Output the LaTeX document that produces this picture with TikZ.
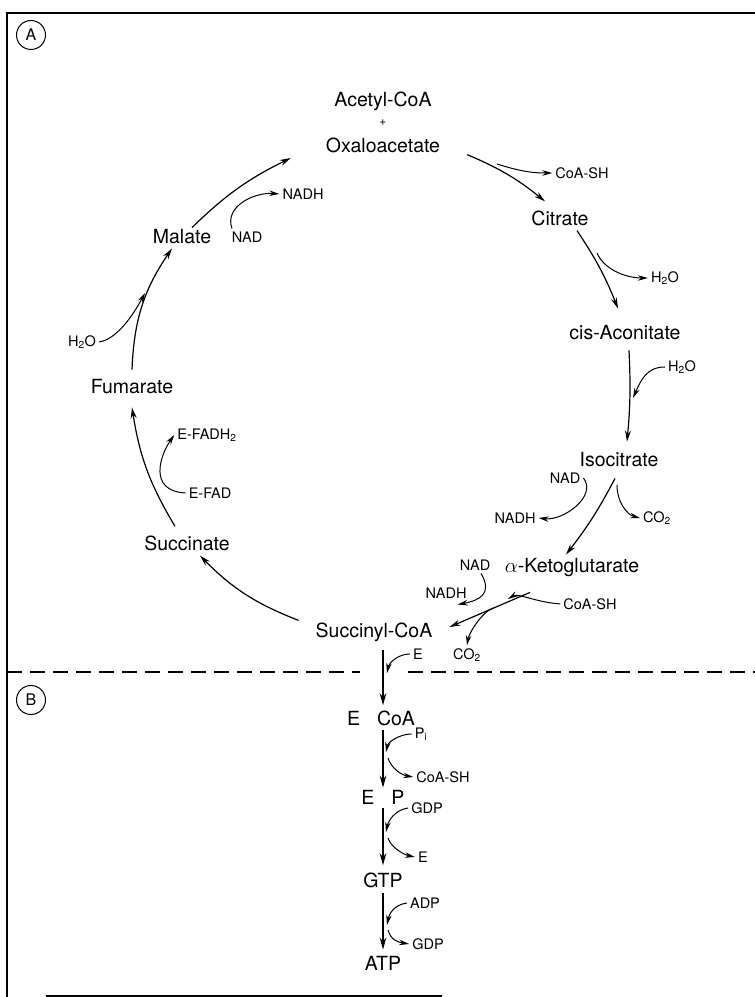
\documentclass[tikz,border=0pt]{standalone}
\usepackage{fontspec}
\setmainfont{TeX Gyre Heros}
\usetikzlibrary{arrows.meta}

\begin{document}
\begin{tikzpicture}[x=1pt,y=1pt,
  metab/.style={font=\fontsize{19.5}{22}\selectfont, inner sep=2pt},
  cofac/.style={font=\fontsize{14.5}{17}\selectfont, inner sep=3pt},
  panel/.style={draw, circle, line width=1pt, minimum size=29pt, inner sep=0pt, font=\fontsize{16}{18}\selectfont},
  cyc/.style={line width=1.2pt, -{Stealth[length=11pt,width=6pt]}},
  side/.style={line width=1pt, -{Stealth[length=10pt,width=5.5pt]}},
  stem/.style={line width=2pt, -{Stealth[length=12pt,width=6.5pt]}}]

  \useasboundingbox (0,0) rectangle (755,997);

  % frame and divider
  \draw[line width=1.5pt] (7,0) -- (7,984) -- (755,984);
  \draw[line width=1.2pt] (46,1) -- (442,1);
  \draw[line width=1.3pt, dash pattern=on 15pt off 8pt] (7,325) -- (360,325);
  \draw[line width=1.3pt, dash pattern=on 15pt off 8pt] (408,325) -- (755,325);

  % panel letters
  \node[panel] (pa) at (31,962) {A};
  \node[panel] (pb) at (31,297) {B};

  % cycle intermediates
  \node[metab] (acetyl) at (383,896) {Acetyl-CoA};
  \node[font=\fontsize{12}{14}\selectfont] (plus) at (383,874) {+};
  \node[metab] (oxalo) at (383,852) {Oxaloacetate};
  \node[metab] (citrate) at (560,779) {Citrate};
  \node[metab] (cisacon) at (625,664) {cis-Aconitate};
  \node[metab] (isocit) at (619,537) {Isocitrate};
  \node[metab] (aketo) at (572,429) {$\alpha$-Ketoglutarate};
  \node[metab] (succoa) at (374,365) {Succinyl-CoA};
  \node[metab] (succ) at (187,454) {Succinate};
  \node[metab] (fum) at (132,610) {Fumarate};
  \node[metab] (mal) at (182,760) {Malate};

  % cofactors around the cycle
  \node[cofac] (coash1) at (582,824) {CoA-SH};
  \node[cofac] (water1) at (665,719) {H\textsubscript{2}O};
  \node[cofac] (water2) at (682,630) {H\textsubscript{2}O};
  \node[cofac] (nad1) at (565,519) {NAD};
  \node[cofac] (nadh1) at (515,479) {NADH};
  \node[cofac] (co2a) at (657,479) {CO\textsubscript{2}};
  \node[cofac] (nad2) at (475,432) {NAD};
  \node[cofac] (nadh2) at (446,404) {NADH};
  \node[cofac] (coash2) at (590,393) {CoA-SH};
  \node[cofac] (co2b) at (467,342) {CO\textsubscript{2}};
  \node[cofac] (nad3) at (247,760) {NAD};
  \node[cofac] (nadh3) at (303,803) {NADH};
  \node[cofac] (water3) at (82,655) {H\textsubscript{2}O};
  \node[cofac] (efad) at (210,504) {E-FAD};
  \node[cofac] (efadh) at (207,562) {E-FADH\textsubscript{2}};

  % panel B
  \node[cofac] (enz1) at (418,343) {E};
  \node[metab] (ecoa) at (381,279) {E\hspace{17pt}CoA};
  \node[cofac] (pi) at (421,263) {P\textsubscript{i}};
  \node[cofac] (coash3) at (443,220) {CoA-SH};
  \node[metab] (ep) at (383,200) {E\hspace{17pt}P};
  \node[cofac] (gdp1) at (427,189) {GDP};
  \node[cofac] (enz2) at (423,140) {E};
  \node[metab] (gtp) at (383,117) {GTP};
  \node[cofac] (adp) at (425,94) {ADP};
  \node[cofac] (gdp2) at (428,53) {GDP};
  \node[metab] (atp) at (383,34) {ATP};

  % junctions of the side reactions
  \coordinate (j1) at (497,833);
  \coordinate (j2) at (597,744);
  \coordinate (j3) at (633,599);
  \coordinate (j4) at (617,512);
  \coordinate (j5) at (508,398);
  \coordinate (j6) at (493,389);
  \coordinate (j7) at (145,704);
  \coordinate (jb1) at (387,324);
  \coordinate (jb2) at (386,245);
  \coordinate (jb3) at (388,239);
  \coordinate (jb4) at (386,165);
  \coordinate (jb5) at (388,159);
  \coordinate (jb6) at (387,72);
  \coordinate (jb7) at (388,67);

  % the cycle
  \draw[cyc] ([xshift=10pt]mal.north) to[bend left=9] ([xshift=-33pt,yshift=-13pt]oxalo.west);
  \draw[cyc] ([xshift=25pt]oxalo.south east) to[bend left=8] ([xshift=-15pt,yshift=7pt]citrate.north);
  \draw[cyc] ([xshift=17pt,yshift=-3pt]citrate.south) to[bend left=6] ([xshift=-7pt,yshift=15pt]cisacon.north);
  \draw[cyc] ([xshift=4pt,yshift=-8pt]cisacon.south) to[bend left=4] ([xshift=8pt,yshift=9pt]isocit.north);
  \draw[cyc] ([xshift=-4pt,yshift=-9pt]isocit.south) to[bend left=5] ([xshift=-6pt,yshift=2pt]aketo.north);
  \draw[cyc] ([xshift=-42pt,yshift=-13pt]aketo.south) -- ([xshift=15pt,yshift=5pt]succoa.east);
  \draw[cyc] ([xshift=-15pt]succoa.north west) to[bend left=12] ([xshift=13pt,yshift=-3pt]succ.south);
  \draw[cyc] ([xshift=-12pt,yshift=7pt]succ.north) to[bend left=11] ([yshift=-11pt]fum.south);
  \draw[cyc] ([yshift=8pt]fum.north) to[bend left=16] ([xshift=-10pt,yshift=-2pt]mal.south);

  % side reactions
  \draw[side] (j1) .. controls +(25,-8) and +(-18,0) .. (coash1.west);
  \draw[side] (j2) .. controls +(8,-18) and +(-20,0) .. (water1.west);
  \draw[side] (water2.west) .. controls +(-18,0) and +(8,18) .. (j3);
  \draw[side] (nad1.east) .. controls +(14,-18) and +(25,-3) .. (nadh1.east);
  \draw[side] (j4) .. controls +(0,-18) and +(-12,3) .. (co2a.west);
  \draw[side] ([xshift=6pt]nad2.south) .. controls +(12,-20) and +(22,4) .. ([xshift=-12pt,yshift=-3pt]nadh2.south east);
  \draw[side] (coash2.west) .. controls +(-25,2) and +(10,6) .. (j5);
  \draw[side] (j6) .. controls +(-12,-5) and +(2,12) .. (co2b.north);
  \draw[side] ([xshift=-15pt]nad3.north) .. controls +(-8,22) and +(-25,2) .. (nadh3.west);
  \draw[side] (water3.east) .. controls +(20,3) and +(-8,-15) .. (j7);
  \draw[side] (efad.west) .. controls +(-38,2) and +(-14,-20) .. (efadh.west);

  % panel B stems
  \draw[stem] ([xshift=9pt,yshift=-6pt]succoa.south) -- ([xshift=2pt,yshift=3pt]ecoa.north);
  \draw[stem] ([xshift=2pt,yshift=-2pt]ecoa.south) -- (ep.north);
  \draw[stem] ([yshift=-2pt]ep.south) -- ([yshift=5pt]gtp.north);
  \draw[stem] ([yshift=-3pt]gtp.south) -- ([yshift=4pt]atp.north);

  \draw[side] (enz1.west) .. controls +(-12,0) and +(2,10) .. (jb1);
  \draw[side] (pi.west) .. controls +(-12,0) and +(2,10) .. (jb2);
  \draw[side] (jb3) .. controls +(3,-10) and +(-12,2) .. (coash3.west);
  \draw[side] (gdp1.west) .. controls +(-14,-2) and +(2,10) .. (jb4);
  \draw[side] (jb5) .. controls +(3,-10) and +(-10,2) .. (enz2.west);
  \draw[side] (adp.west) .. controls +(-14,-2) and +(2,10) .. (jb6);
  \draw[side] (jb7) .. controls +(3,-10) and +(-12,2) .. (gdp2.west);

\end{tikzpicture}
\end{document}
